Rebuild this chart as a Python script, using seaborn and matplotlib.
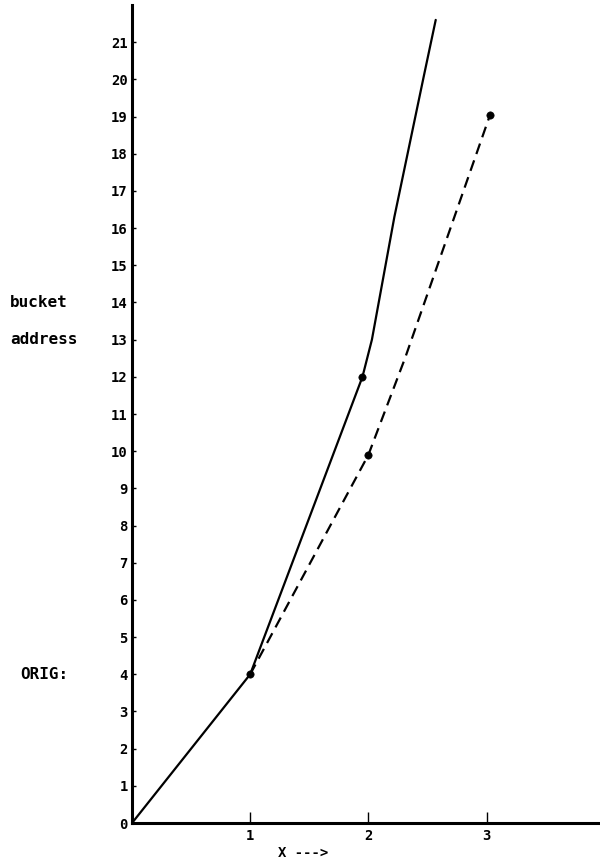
import numpy as np
import pandas as pd
import matplotlib
matplotlib.use("Agg")
import matplotlib.pyplot as plt
import matplotlib.transforms as mtransforms
import seaborn as sns

# solid curve
solid_x = [0.0, 1.0, 1.95, 2.03, 2.22, 2.47, 2.57]
solid_y = [0.0, 4.0, 12.0, 13.0, 16.3, 20.1, 21.6]
# dashed curve
dash_x = [1.0, 2.0, 2.31, 3.03]
dash_y = [4.0, 9.9, 12.5, 19.05]
# marked points
dot_x = [1.0, 1.95, 2.0, 3.03]
dot_y = [4.0, 12.0, 9.9, 19.05]

y_ticks = list(range(0, 22))
x_ticks = [1, 2, 3]
side_labels = {"bucket": 14, "address": 13, "ORIG:": 4}

sns.set_style("ticks")
plt.rcParams['font.family'] = ['DejaVu Sans Mono', 'DejaVu Sans']

fig = plt.figure(figsize=(6, 8.67), dpi=100)
ax = fig.add_axes([0.22, 0.0507, 0.78, 0.9435])

df = pd.concat([
    pd.DataFrame({"x": solid_x, "y": solid_y, "curve": "solid"}),
    pd.DataFrame({"x": dash_x, "y": dash_y, "curve": "dashed"}),
])
sns.lineplot(data=df, x="x", y="y", style="curve", sort=False, estimator=None,
             color="black", linewidth=1.6, dashes={"solid": "", "dashed": (5, 3)},
             legend=False, ax=ax)
sns.scatterplot(x=dot_x, y=dot_y, color="black", s=28, edgecolor="black",
                zorder=5, ax=ax)

ax.set_xlim(0, 3.96)
ax.set_ylim(0, 22.0)
ax.set_xticks(x_ticks)
ax.set_yticks(y_ticks)
ax.set_xticklabels([str(v) for v in x_ticks], fontsize=10, fontweight="bold")
ax.set_yticklabels([str(v) for v in y_ticks], fontsize=10, fontweight="bold")
ax.tick_params(axis="x", direction="in", length=8, width=1, pad=4,
               colors="black")
ax.tick_params(axis="y", direction="in", length=3, width=1, pad=3,
               colors="black")
ax.set_xlabel("")
ax.set_ylabel("")

for side in ["top", "right"]:
    ax.spines[side].set_visible(False)
for side in ["left", "bottom"]:
    ax.spines[side].set_linewidth(2.2)
    ax.spines[side].set_color("black")

trans = mtransforms.blended_transform_factory(fig.transFigure, ax.transData)
for txt, yv in side_labels.items():
    x0 = 0.033 if txt == "ORIG:" else 0.017
    ax.text(x0, yv, txt, transform=trans, ha="left", va="center",
            fontsize=11.5, fontweight="bold", color="black")

ax.text(1.45, -0.028, "X --->",
        transform=mtransforms.blended_transform_factory(ax.transData, ax.transAxes),
        ha="center", va="top", fontsize=10, fontweight="bold", color="black")

fig.savefig("out.png", dpi=100)
